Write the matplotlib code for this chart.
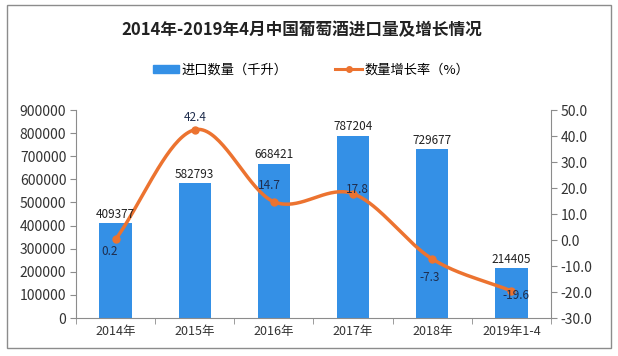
import numpy as np
import matplotlib
matplotlib.use("Agg")
import matplotlib.pyplot as plt
from matplotlib.patches import Rectangle
from matplotlib.lines import Line2D
from matplotlib.patches import Patch

plt.rcParams['font.family'] = ['Noto Sans CJK SC', 'DejaVu Sans']

# data
years = ["2014年", "2015年", "2016年", "2017年", "2018年", "2019年1-4"]
volume = [409377, 582793, 668421, 787204, 729677, 214405]
growth = [0.2, 42.4, 14.7, 17.8, -7.3, -19.6]

bar_color = "#3490e6"
line_color = "#ec7330"
label_color = "#1f2d4d"


def catmull_rom(xs, ys, n=40):
    # smooth curve through the points (Excel style smoothing)
    pts = np.column_stack([xs, ys]).astype(float)
    pts = np.vstack([2 * pts[0] - pts[1], pts, 2 * pts[-1] - pts[-2]])
    out = []
    for i in range(1, len(pts) - 2):
        p0, p1, p2, p3 = pts[i - 1], pts[i], pts[i + 1], pts[i + 2]
        t = np.linspace(0, 1, n)[:, None]
        seg = 0.5 * ((2 * p1) + (-p0 + p2) * t + (2 * p0 - 5 * p1 + 4 * p2 - p3) * t ** 2
                     + (-p0 + 3 * p1 - 3 * p2 + p3) * t ** 3)
        out.append(seg)
    out = np.vstack(out)
    return out[:, 0], out[:, 1]


fig = plt.figure(figsize=(6.18, 3.56), dpi=100)
fig.patches.append(Rectangle((7 / 618, 1 - 348 / 356), 604 / 618, 343 / 356,
                             transform=fig.transFigure, fill=False,
                             edgecolor="#8c8c8c", linewidth=1.0))

ax = fig.add_axes([76 / 618, 38 / 356, 475 / 618, 208 / 356])
x = np.arange(len(years))
ax.bar(x, volume, width=0.41, color=bar_color, zorder=2)
ax.set_xlim(-0.5, len(years) - 0.5)
ax.set_ylim(0, 900000)
ax.set_yticks(np.arange(0, 900001, 100000))
ax.set_yticklabels([str(v) for v in range(0, 900001, 100000)], fontsize=10, color="#333333")
ax.set_xticks(x)
ax.set_xticklabels(years, fontsize=9, color="#333333")
ax.set_xticks(np.arange(-0.5, len(years)), minor=True)
ax.tick_params(axis="x", which="major", length=0, pad=5)
ax.tick_params(axis="x", which="minor", length=4, color="#8c8c8c")
ax.tick_params(axis="y", length=4, color="#8c8c8c", pad=3)
for s in ["top", "right"]:
    ax.spines[s].set_visible(False)
for s in ["left", "bottom"]:
    ax.spines[s].set_color("#8c8c8c")

ax2 = ax.twinx()
ax2.set_ylim(-30, 50)
ax2.set_yticks(np.arange(-30, 51, 10))
ax2.set_yticklabels(["%.1f" % v for v in range(-30, 51, 10)], fontsize=10, color="#333333")
ax2.tick_params(axis="y", length=4, color="#8c8c8c", pad=3)
for s in ["top", "left", "bottom"]:
    ax2.spines[s].set_visible(False)
ax2.spines["right"].set_color("#8c8c8c")

sx, sy = catmull_rom(x, growth)
ax2.plot(sx, sy, color=line_color, linewidth=2.5, zorder=3)
ax2.plot(x, growth, "o", color=line_color, markersize=5, zorder=4)

# bar value labels, drawn on top of the line
for xi, v in zip(x, volume):
    ax2.text(xi, v + 12000, str(v), transform=ax.transData, ha="center", va="bottom",
             fontsize=8.5, color="#222222", zorder=5)

# label offsets (points)
offsets = [(-4, -9), (0, 9), (-3, 12), (3, 3), (-2, -13), (3, -3)]
for xi, g, (dx, dy) in zip(x, growth, offsets):
    ax2.annotate("%.1f" % g, (xi, g), xytext=(dx, dy), textcoords="offset points",
                 ha="center", va="center", fontsize=8.5, color=label_color, zorder=5)

fig.text(302 / 618, 1 - 30 / 356, "2014年-2019年4月中国葡萄酒进口量及增长情况",
         ha="center", va="center", fontsize=12, fontweight="bold", color="#222222")

handles = [Patch(color=bar_color),
           Line2D([0], [0], color=line_color, linewidth=2.2, marker="o", markersize=4)]
fig.legend(handles, ["进口数量（千升）", "数量增长率（%）"], loc="center",
           bbox_to_anchor=(311 / 618, 1 - 70 / 356), ncol=2, frameon=False,
           fontsize=9.5, handlelength=2.0, handleheight=0.6, columnspacing=3.6,
           handletextpad=0.2)

fig.savefig("out.png", dpi=100)
